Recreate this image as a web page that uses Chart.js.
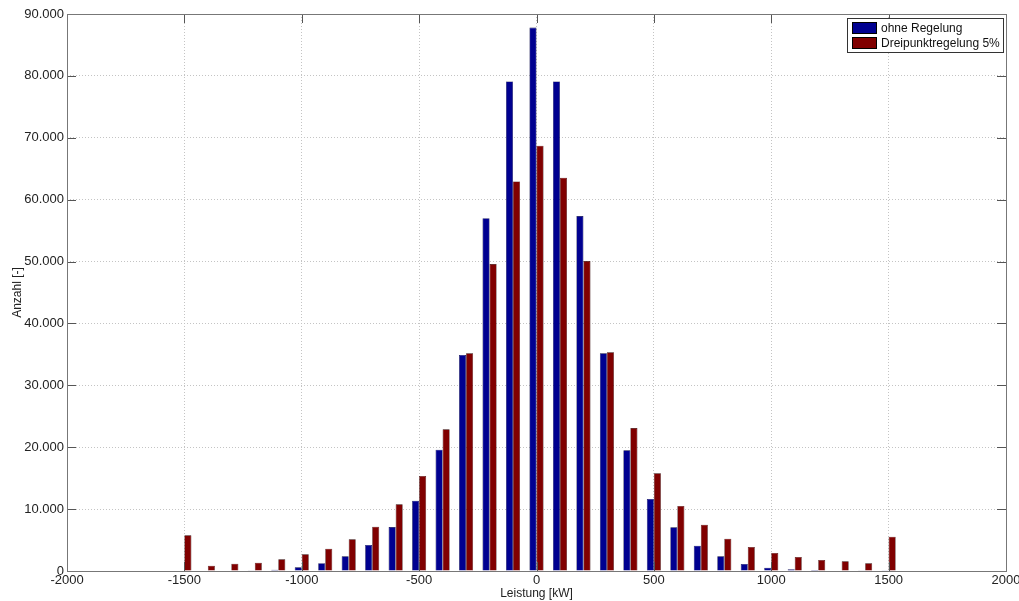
<!DOCTYPE html>
<html>
<head>
<meta charset="utf-8">
<script src="https://cdn.jsdelivr.net/npm/chart.js@4/dist/chart.umd.min.js"></script>
<style>
html,body{margin:0;padding:0;background:#fff;}
#wrap{width:1019px;height:601px;position:relative;}
</style>
</head>
<body>
<div id="wrap"><canvas id="c"></canvas></div>
<script>
const bins = [-1500,-1400,-1300,-1200,-1100,-1000,-900,-800,-700,-600,-500,-400,-300,-200,-100,0,100,200,300,400,500,600,700,800,900,1000,1100,1200,1300,1400,1500];
const ohneRegelung = [80,100,100,120,200,600,1250,2370,4200,7100,11360,19600,34900,57000,79100,87800,79100,57350,35170,19500,11630,7060,4090,2370,1130,530,300,150,80,60,40];
const dreipunkt = [5770,860,1180,1340,1890,2700,3600,5120,7160,10770,15350,22890,35170,49600,62950,68710,63540,50080,35330,23100,15780,10500,7480,5220,3880,2910,2260,1780,1560,1240,5540];
const seriesNames = ['ohne Regelung','Dreipunktregelung 5%'];
const xTitle = 'Leistung [kW]';
const yTitle = 'Anzahl [-]';

const FONT = 'Liberation Sans, Arial, Helvetica, sans-serif';
const fmt = v => v === 0 ? '0' : String(v).replace(/\B(?=(\d{3})+(?!\d))/g, '.');

const boxPlugin = {
  id: 'matlabBox',
  afterDatasetsDraw(chart) {
    const {ctx, chartArea: a, scales: {x, y}} = chart;
    ctx.save();
    ctx.strokeStyle = '#555';
    ctx.lineWidth = 1;
    ctx.beginPath();
    const L = 9;
    x.ticks.forEach(t => {
      const px = Math.round(x.getPixelForValue(t.value)) + 0.5;
      ctx.moveTo(px, a.bottom); ctx.lineTo(px, a.bottom - L);
      ctx.moveTo(px, a.top); ctx.lineTo(px, a.top + L);
    });
    y.ticks.forEach(t => {
      const py = Math.round(y.getPixelForValue(t.value)) + 0.5;
      ctx.moveTo(a.left, py); ctx.lineTo(a.left + L, py);
      ctx.moveTo(a.right, py); ctx.lineTo(a.right - L, py);
    });
    ctx.stroke();
    ctx.strokeStyle = '#777';
    ctx.strokeRect(Math.round(a.left) + 0.5, Math.round(a.top) + 0.5, Math.round(a.right - a.left), Math.round(a.bottom - a.top));
    // legend
    const lx = 847, ly = 18, lw = 156, lh = 34;
    ctx.fillStyle = '#fff';
    ctx.fillRect(lx, ly, lw, lh);
    ctx.strokeStyle = '#333';
    ctx.strokeRect(lx + 0.5, ly + 0.5, lw, lh);
    ctx.font = '12px ' + FONT;
    ctx.textBaseline = 'middle';
    chart.data.datasets.forEach((ds, i) => {
      const sy = ly + 4 + i * 15;
      ctx.fillStyle = ds.backgroundColor;
      ctx.fillRect(lx + 5, sy, 25, 12);
      ctx.strokeStyle = '#000';
      ctx.strokeRect(lx + 5.5, sy + 0.5, 24, 11);
      ctx.fillStyle = '#111';
      ctx.fillText(ds.label, lx + 34, sy + 7);
    });
    ctx.restore();
  }
};

new Chart(document.getElementById('c'), {
  type: 'bar',
  data: {
    datasets: [
      {label: seriesNames[0], data: bins.map((b, i) => ({x: b, y: ohneRegelung[i]})), backgroundColor: '#000090', borderColor: '#000040', borderWidth: 0.6},
      {label: seriesNames[1], data: bins.map((b, i) => ({x: b, y: dreipunkt[i]})), backgroundColor: '#800000', borderColor: '#300000', borderWidth: 0.6}
    ]
  },
  options: {
    responsive: true,
    maintainAspectRatio: false,
    animation: false,
    categoryPercentage: 0.6,
    barPercentage: 1.0,
    layout: {padding: {left: 0, right: 13, top: 14, bottom: 0}},
    plugins: {legend: {display: false}, tooltip: {enabled: false}},
    scales: {
      x: {
        type: 'linear', offset: false, min: -2000, max: 2000,
        afterFit: s => { s.height = 30; s.paddingLeft = 0; s.paddingRight = 0; },
        ticks: {stepSize: 500, maxRotation: 0, autoSkip: false, padding: 2, color: '#222', font: {family: FONT, size: 13}, callback: v => String(v)},
        grid: {color: '#c4c4c4', drawTicks: false, lineWidth: 1, offset: false},
        border: {display: false, dash: [1, 2]},
        title: {display: true, text: xTitle, color: '#222', font: {family: FONT, size: 12}, padding: {top: 0, bottom: 0}}
      },
      y: {
        min: 0, max: 90000,
        afterFit: s => { s.width = 67; s.paddingTop = 0; s.paddingBottom = 0; },
        ticks: {stepSize: 10000, padding: 3, color: '#222', font: {family: FONT, size: 13}, callback: v => fmt(v)},
        grid: {color: '#c4c4c4', drawTicks: false, lineWidth: 1},
        border: {display: false, dash: [1, 2]},
        title: {display: true, text: yTitle, color: '#222', font: {family: FONT, size: 12}, padding: {top: 10, bottom: 0}}
      }
    }
  },
  plugins: [boxPlugin]
});
</script>
</body>
</html>
